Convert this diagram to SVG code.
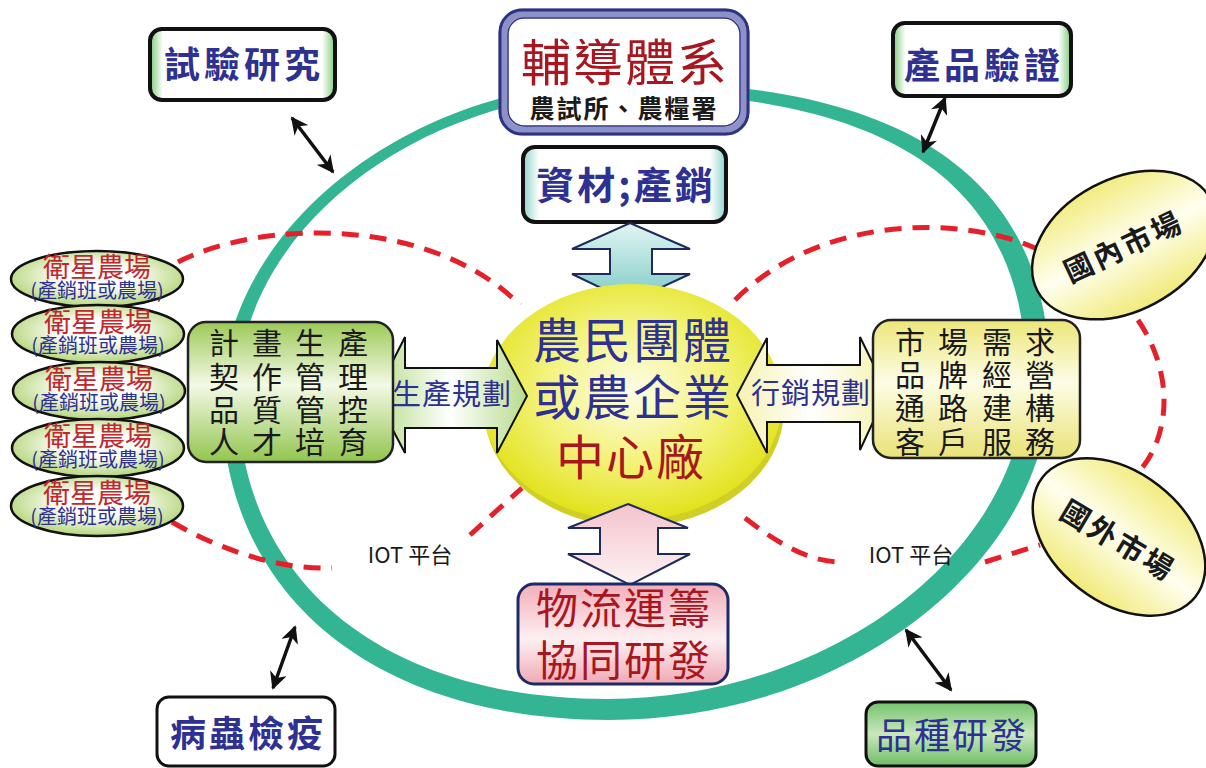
<svg xmlns="http://www.w3.org/2000/svg" width="1206" height="768" viewBox="0 0 1206 768">
<defs>
<linearGradient id="gEdgeGreen" x1="0" y1="0" x2="1" y2="0">
<stop offset="0" stop-color="#7fcb7a"/><stop offset="0.07" stop-color="#ffffff"/><stop offset="0.93" stop-color="#ffffff"/><stop offset="1" stop-color="#7fcb7a"/>
</linearGradient>
<linearGradient id="gEdgeTeal" x1="0" y1="0" x2="1" y2="0">
<stop offset="0" stop-color="#8fd3cc"/><stop offset="0.08" stop-color="#ffffff"/><stop offset="0.92" stop-color="#ffffff"/><stop offset="1" stop-color="#8fd3cc"/>
</linearGradient>
<linearGradient id="gGreenBox" x1="0" y1="0" x2="0" y2="1">
<stop offset="0" stop-color="#9cc957"/><stop offset="0.45" stop-color="#f4f9e6"/><stop offset="1" stop-color="#92c54e"/>
</linearGradient>
<linearGradient id="gYellowBox" x1="0" y1="0" x2="0" y2="1">
<stop offset="0" stop-color="#ece679"/><stop offset="0.45" stop-color="#fdfde6"/><stop offset="1" stop-color="#e9e277"/>
</linearGradient>
<linearGradient id="gPinkBox" x1="0" y1="0" x2="0" y2="1">
<stop offset="0" stop-color="#f2aeb9"/><stop offset="0.55" stop-color="#fdf0f2"/><stop offset="1" stop-color="#f0a9b5"/>
</linearGradient>
<linearGradient id="gVariety" x1="0" y1="0" x2="0" y2="1">
<stop offset="0" stop-color="#74c26c"/><stop offset="0.5" stop-color="#c9e8bd"/><stop offset="1" stop-color="#6dbd66"/>
</linearGradient>
<radialGradient id="gSat" cx="0.5" cy="0.45" r="0.6">
<stop offset="0.35" stop-color="#ffffff"/><stop offset="1" stop-color="#a8cf63"/>
</radialGradient>
<linearGradient id="gMarket" x1="0" y1="0" x2="0" y2="1">
<stop offset="0" stop-color="#f2ec80"/><stop offset="0.5" stop-color="#fffff0"/><stop offset="1" stop-color="#f1ea7a"/>
</linearGradient>
<radialGradient id="gCenter" cx="0.5" cy="0.45" r="0.55">
<stop offset="0" stop-color="#fdfde8"/><stop offset="0.55" stop-color="#f3f27a"/><stop offset="1" stop-color="#e2e21c"/>
</radialGradient>
<linearGradient id="gArrowTeal" x1="0" y1="0" x2="0" y2="1">
<stop offset="0" stop-color="#e2f5f3"/><stop offset="1" stop-color="#7ccac6"/>
</linearGradient>
<linearGradient id="gArrowPink" x1="0" y1="0" x2="0" y2="1">
<stop offset="0" stop-color="#f4c3cc"/><stop offset="1" stop-color="#fdf3f5"/>
</linearGradient>
<linearGradient id="gArrowGreen" x1="0" y1="0" x2="1" y2="0">
<stop offset="0" stop-color="#b7dc8c"/><stop offset="0.5" stop-color="#ffffff"/><stop offset="1" stop-color="#b7dc8c"/>
</linearGradient>
<linearGradient id="gArrowYellow" x1="0" y1="0" x2="1" y2="0">
<stop offset="0" stop-color="#f6f2b0"/><stop offset="0.5" stop-color="#ffffff"/><stop offset="1" stop-color="#f6f2b0"/>
</linearGradient>
<marker id="ah" viewBox="0 0 10 10" refX="9" refY="5" markerWidth="5" markerHeight="5" orient="auto-start-reverse">
<path d="M0,0 L10,5 L0,10 L3,5 Z" fill="#111"/>
</marker>
</defs>
<style>
text{font-family:"Noto Sans CJK TC","Noto Sans CJK SC",sans-serif;text-anchor:middle}
.blueB{fill:#2e3192;font-weight:700}
.blue{fill:#2e3192}
.red{fill:#a8161f}
.sred{fill:#c1272d}
.blk{fill:#1a1a1a}
.dash{fill:none;stroke:#e5202a;stroke-width:5;stroke-dasharray:17 11}
.dbl{fill:none;stroke:#111;stroke-width:3.5;marker-start:url(#ah);marker-end:url(#ah)}
.sat{fill:url(#gSat);stroke:#111;stroke-width:2.5}
.mkt{fill:url(#gMarket);stroke:#111;stroke-width:2.5}
</style>
<rect width="1206" height="768" fill="#ffffff"/>

<g id="connectors">
<path id="ring" fill="#33b594" fill-rule="evenodd" d="M222,400 C222,226 415,82 620,82 C886,80 1050,164 1050,380 C1050,564 845,720 609,720 C374,720 222,595 222,400 Z M238,395 C238,229 421,93 616,93 C870,91 1026,171 1026,376 C1026,551 831,699 607,699 C382,699 238,580 238,395 Z"/>
<path class="dash" d="M178,262 C260,220 430,215 520,305"/>
<path class="dash" d="M735,300 C820,215 960,215 1035,248"/>
<path class="dash" d="M1138,320 C1172,370 1172,430 1142,468"/>
<path class="dash" d="M172,522 C220,550 280,570 332,568"/>
<path class="dash" d="M470,535 Q495,512 522,488"/>
<path class="dash" d="M745,518 C780,545 810,562 842,562"/>
<path class="dash" d="M985,562 L1040,545"/>
<line class="dbl" x1="292" y1="118" x2="333" y2="172"/>
<line class="dbl" x1="945" y1="98" x2="923" y2="152"/>
<line class="dbl" x1="295" y1="627" x2="273" y2="688"/>
<line class="dbl" x1="906" y1="630" x2="951" y2="690"/>
</g>

<g id="trial">
<rect x="150" y="29" width="185" height="71" rx="12" fill="url(#gEdgeGreen)" stroke="#111" stroke-width="4"/>
<text class="blueB" x="244" y="78" font-size="36" letter-spacing="4">試驗研究</text>
</g>

<g id="guidance">
<rect x="503" y="13" width="242" height="118" rx="20" fill="#ffffff" stroke="#8e90c9" stroke-width="9"/>
<rect x="500" y="10" width="248" height="124" rx="22" fill="none" stroke="#2e3380" stroke-width="3"/>
<rect x="508" y="18" width="232" height="108" rx="16" fill="none" stroke="#2e3380" stroke-width="1.5"/>
<text class="red" x="625" y="81" font-size="50" letter-spacing="2">輔導體系</text>
<text class="blk" x="624" y="118" font-size="25" font-weight="700" letter-spacing="2">農試所、農糧署</text>
</g>

<g id="verify">
<rect x="893" y="23" width="178" height="73" rx="12" fill="url(#gEdgeGreen)" stroke="#111" stroke-width="4"/>
<text class="blueB" x="984" y="79" font-size="36" letter-spacing="4">產品驗證</text>
</g>

<g id="materials">
<rect x="523" y="147" width="203" height="75" rx="12" fill="url(#gEdgeTeal)" stroke="#111" stroke-width="4"/>
<text class="blueB" x="626" y="199" font-size="38" letter-spacing="3">資材;產銷</text>
</g>

<g id="arrowTop">
<path d="M630,223 L690,249 L652,249 L652,274 L690,274 L630,302 L572,274 L610,274 L610,249 L572,249 Z" fill="url(#gArrowTeal)" stroke="#1d2a5a" stroke-width="2"/>
</g>

<g id="center">
<ellipse cx="634" cy="409" rx="150" ry="118" fill="#cfcf25"/>
<ellipse cx="632" cy="402" rx="150" ry="118" fill="url(#gCenter)"/>
<text class="blue" x="633" y="358" font-size="48" letter-spacing="2">農民團體</text>
<text class="blue" x="633" y="415" font-size="48" letter-spacing="2">或農企業</text>
<text class="red" x="631" y="475" font-size="48" letter-spacing="2">中心廠</text>
</g>

<g id="arrowProd">
<path d="M375,396 L405,337 L405,368 L497,368 L497,340 L527,396 L497,453 L497,428 L405,428 L405,453 Z" fill="url(#gArrowGreen)" stroke="#111" stroke-width="2"/>
<text class="blue" x="452" y="405" font-size="29" letter-spacing="1">生產規劃</text>
</g>

<g id="arrowMkt">
<path d="M737,395 L767,338 L767,365 L860,365 L860,337 L887,392 L860,450 L860,422 L767,422 L767,453 Z" fill="url(#gArrowYellow)" stroke="#111" stroke-width="2"/>
<text class="blue" x="811" y="404" font-size="29" letter-spacing="1">行銷規劃</text>
</g>

<g id="plan">
<rect x="188" y="322" width="205" height="140" rx="18" fill="url(#gGreenBox)" stroke="#222" stroke-width="2.5"/>
<g class="blk" font-size="30">
<text x="224" y="354">計</text><text x="267" y="354">畫</text><text x="310" y="354">生</text><text x="353" y="354">產</text>
<text x="224" y="388">契</text><text x="267" y="388">作</text><text x="310" y="388">管</text><text x="353" y="388">理</text>
<text x="224" y="421">品</text><text x="267" y="421">質</text><text x="310" y="421">管</text><text x="353" y="421">控</text>
<text x="224" y="453">人</text><text x="267" y="453">才</text><text x="310" y="453">培</text><text x="353" y="453">育</text>
</g>
</g>

<g id="market">
<rect x="873" y="320" width="207" height="138" rx="18" fill="url(#gYellowBox)" stroke="#222" stroke-width="2.5"/>
<g class="blk" font-size="30">
<text x="910" y="353">市</text><text x="953" y="353">場</text><text x="997" y="353">需</text><text x="1040" y="353">求</text>
<text x="910" y="386">品</text><text x="953" y="386">牌</text><text x="997" y="386">經</text><text x="1040" y="386">營</text>
<text x="910" y="419">通</text><text x="953" y="419">路</text><text x="997" y="419">建</text><text x="1040" y="419">構</text>
<text x="910" y="453">客</text><text x="953" y="453">戶</text><text x="997" y="453">服</text><text x="1040" y="453">務</text>
</g>
</g>

<g id="sat1"><ellipse class="sat" cx="97" cy="279" rx="86" ry="28"/><text class="sred" x="97" y="277" font-size="27">衛星農場</text><text class="blue" x="97" y="298" font-size="20">(產銷班或農場)</text></g>
<g id="sat2"><ellipse class="sat" cx="98" cy="334" rx="86" ry="29"/><text class="sred" x="98" y="332" font-size="27">衛星農場</text><text class="blue" x="98" y="353" font-size="20">(產銷班或農場)</text></g>
<g id="sat3"><ellipse class="sat" cx="99" cy="391" rx="86" ry="29"/><text class="sred" x="99" y="389" font-size="27">衛星農場</text><text class="blue" x="99" y="410" font-size="20">(產銷班或農場)</text></g>
<g id="sat4"><ellipse class="sat" cx="98" cy="448" rx="86" ry="29"/><text class="sred" x="98" y="446" font-size="27">衛星農場</text><text class="blue" x="98" y="467" font-size="20">(產銷班或農場)</text></g>
<g id="sat5"><ellipse class="sat" cx="97" cy="506" rx="86" ry="30"/><text class="sred" x="97" y="503" font-size="27">衛星農場</text><text class="blue" x="97" y="524" font-size="20">(產銷班或農場)</text></g>

<g id="domestic">
<ellipse class="mkt" cx="1124" cy="245" rx="98" ry="66" transform="rotate(-28 1124 245)"/>
<text class="blk" x="1124" y="258" font-size="29" font-weight="700" letter-spacing="3" transform="rotate(-25 1122 248)">國內市場</text>
</g>

<g id="foreign">
<ellipse class="mkt" cx="1119" cy="537" rx="97" ry="65" transform="rotate(38 1119 537)"/>
<text class="blk" x="1118" y="550" font-size="29" font-weight="700" letter-spacing="3" transform="rotate(31 1116 540)">國外市場</text>
</g>

<g id="iotL"><text class="blk" x="410" y="563" font-size="22">IOT 平台</text></g>
<g id="iotR"><text class="blk" x="911" y="563" font-size="22">IOT 平台</text></g>

<g id="arrowBottom">
<path d="M628,504 L688,528 L658,528 L658,554 L690,554 L630,585 L568,554 L600,554 L600,528 L568,528 Z" fill="url(#gArrowPink)" stroke="#1d2a5a" stroke-width="2"/>
</g>

<g id="logistics">
<rect x="518" y="584" width="210" height="100" rx="16" fill="url(#gPinkBox)" stroke="#1d2a6a" stroke-width="3"/>
<text class="red" x="624" y="624" font-size="42" letter-spacing="2">物流運籌</text>
<text class="red" x="624" y="676" font-size="42" letter-spacing="2">協同研發</text>
</g>

<g id="pest">
<rect x="157" y="697" width="178" height="69" rx="12" fill="#ffffff" stroke="#111" stroke-width="3"/>
<text class="blueB" x="248" y="747" font-size="36" letter-spacing="3">病蟲檢疫</text>
</g>

<g id="variety">
<rect x="866" y="702" width="170" height="64" rx="12" fill="url(#gVariety)" stroke="#111" stroke-width="3"/>
<text class="blue" x="952" y="749" font-size="36" letter-spacing="2">品種研發</text>
</g>
</svg>
